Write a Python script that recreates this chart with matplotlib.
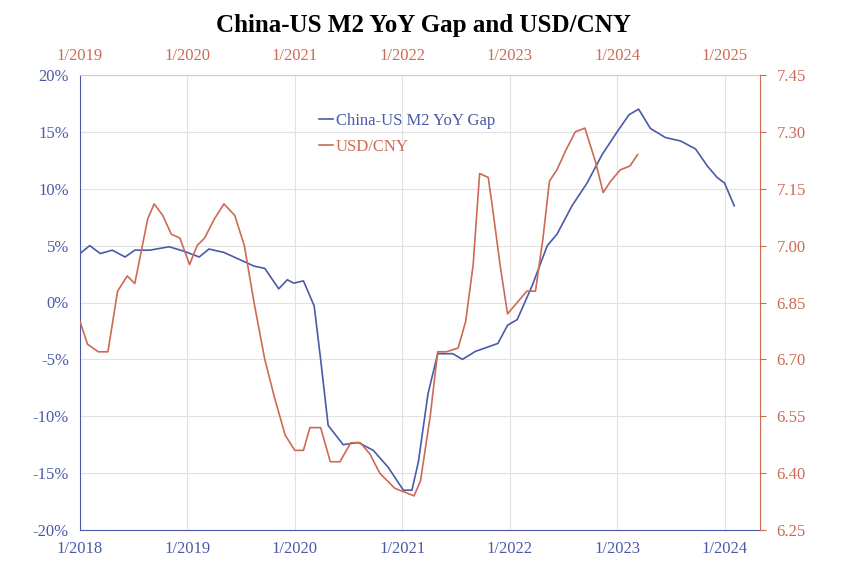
import matplotlib
matplotlib.use("Agg")
import matplotlib.pyplot as plt
import numpy as np

plt.rcParams["font.family"] = "Liberation Serif"

# China-US M2 YoY gap (%), x in decimal years (bottom axis)
gap_t = [2018.00, 2018.09, 2018.19, 2018.30, 2018.42, 2018.51, 2018.65, 2018.83, 2018.97, 2019.11,
         2019.20, 2019.34, 2019.48, 2019.62, 2019.72, 2019.85, 2019.93, 2019.99, 2020.08, 2020.18,
         2020.24, 2020.31, 2020.45, 2020.59, 2020.73, 2020.87, 2021.01, 2021.09, 2021.15, 2021.24,
         2021.33, 2021.47, 2021.56, 2021.68, 2021.89, 2021.98, 2022.07, 2022.21, 2022.35, 2022.44,
         2022.58, 2022.72, 2022.86, 2023.00, 2023.11, 2023.20, 2023.31, 2023.45, 2023.59, 2023.73,
         2023.84, 2023.93, 2024.00, 2024.09]
gap_v = [4.3, 5.0, 4.3, 4.6, 4.0, 4.6, 4.6, 4.9, 4.5, 4.0,
         4.7, 4.4, 3.8, 3.2, 3.0, 1.2, 2.0, 1.7, 1.9, -0.3,
         -5.0, -10.8, -12.5, -12.3, -13.0, -14.5, -16.5, -16.5, -14.0, -8.0,
         -4.5, -4.5, -5.0, -4.3, -3.6, -2.0, -1.5, 1.5, 5.0, 6.0,
         8.5, 10.5, 13.0, 15.0, 16.5, 17.0, 15.3, 14.5, 14.2, 13.5,
         12.0, 11.0, 10.5, 8.5]

# USD/CNY, x in decimal years shifted back one year (top axis = bottom + 1)
fx_t = [2018.00, 2018.07, 2018.17, 2018.26, 2018.35, 2018.44, 2018.51, 2018.63, 2018.69, 2018.77,
        2018.85, 2018.93, 2019.02, 2019.09, 2019.16, 2019.25, 2019.34, 2019.44, 2019.53, 2019.62,
        2019.72, 2019.81, 2019.91, 2020.00, 2020.08, 2020.14, 2020.24, 2020.33, 2020.42, 2020.52,
        2020.61, 2020.70, 2020.79, 2020.93, 2021.02, 2021.11, 2021.17, 2021.26, 2021.33, 2021.41,
        2021.52, 2021.59, 2021.66, 2021.72, 2021.80, 2021.84, 2021.91, 2021.98, 2022.07, 2022.16,
        2022.24, 2022.31, 2022.37, 2022.44, 2022.52, 2022.61, 2022.70, 2022.80, 2022.87, 2022.94,
        2023.03, 2023.12, 2023.19]
fx_v = [6.80, 6.74, 6.72, 6.72, 6.88, 6.92, 6.90, 7.07, 7.11, 7.08,
        7.03, 7.02, 6.95, 7.00, 7.02, 7.07, 7.11, 7.08, 7.00, 6.85,
        6.70, 6.60, 6.50, 6.46, 6.46, 6.52, 6.52, 6.43, 6.43, 6.48,
        6.48, 6.45, 6.40, 6.36, 6.35, 6.34, 6.38, 6.55, 6.72, 6.72,
        6.73, 6.80, 6.95, 7.19, 7.18, 7.10, 6.95, 6.82, 6.85, 6.88,
        6.88, 7.02, 7.17, 7.20, 7.25, 7.30, 7.31, 7.22, 7.14, 7.17,
        7.20, 7.21, 7.24]

bottom_ticks = [2018, 2019, 2020, 2021, 2022, 2023, 2024]
bottom_labels = ["1/2018", "1/2019", "1/2020", "1/2021", "1/2022", "1/2023", "1/2024"]
top_labels = ["1/2019", "1/2020", "1/2021", "1/2022", "1/2023", "1/2024", "1/2025"]
left_ticks = [-20, -15, -10, -5, 0, 5, 10, 15, 20]
right_ticks = [6.25, 6.40, 6.55, 6.70, 6.85, 7.00, 7.15, 7.30, 7.45]

BLUE = "#4a5aa8"
RED = "#cc6a55"

fig = plt.figure(figsize=(8.48, 5.64), dpi=100)
ax = fig.add_axes([80/848, 34/564, 680/848, 455/564])
ax.set_xlim(2018.0, 2024.33)
ax.set_ylim(-20, 20)
ax.set_xticks(bottom_ticks)
ax.set_xticklabels(bottom_labels)
ax.set_yticks(left_ticks)
ax.set_yticklabels([f"{v}%" for v in left_ticks])
ax.grid(True, color="#e2e2e2", linewidth=0.8)
ax.tick_params(axis="both", colors=BLUE, labelsize=12, length=0, pad=8)
for s in ax.spines.values():
    s.set_color("#cccccc")
ax.spines["left"].set_color(BLUE)
ax.spines["bottom"].set_color(BLUE)
l1, = ax.plot(gap_t, gap_v, color=BLUE, lw=1.2, label="China-US M2 YoY Gap")

axr = ax.twinx()
axr.set_ylim(6.25, 7.45)
axr.set_yticks(right_ticks)
axr.set_yticklabels([f"{v:.2f}" for v in right_ticks])
axr.tick_params(axis="y", colors=RED, labelsize=12, length=4, pad=8)
axr.spines["right"].set_color(RED)
for k in ("left", "top", "bottom"):
    axr.spines[k].set_visible(False)
l2, = axr.plot(fx_t, fx_v, color=RED, lw=1.2, label="USD/CNY")

axt = ax.twiny()
axt.set_xlim(2019.0, 2025.33)
axt.set_xticks([t + 1 for t in bottom_ticks])
axt.set_xticklabels(top_labels)
axt.tick_params(axis="x", colors=RED, labelsize=12, length=0, pad=8)
for s in axt.spines.values():
    s.set_visible(False)

leg = ax.legend(handles=[l1, l2], loc="upper left", bbox_to_anchor=(0.33, 0.95), frameon=False,
                fontsize=12, handlelength=0.8, handletextpad=0.2, labelspacing=0.6)
for t, c in zip(leg.get_texts(), [BLUE, RED]):
    t.set_color(c)

fig.text(0.5, 0.975, "China-US M2 YoY Gap and USD/CNY", ha="center", va="top",
         fontsize=18, fontweight="bold")
fig.savefig("out.png", dpi=100)
